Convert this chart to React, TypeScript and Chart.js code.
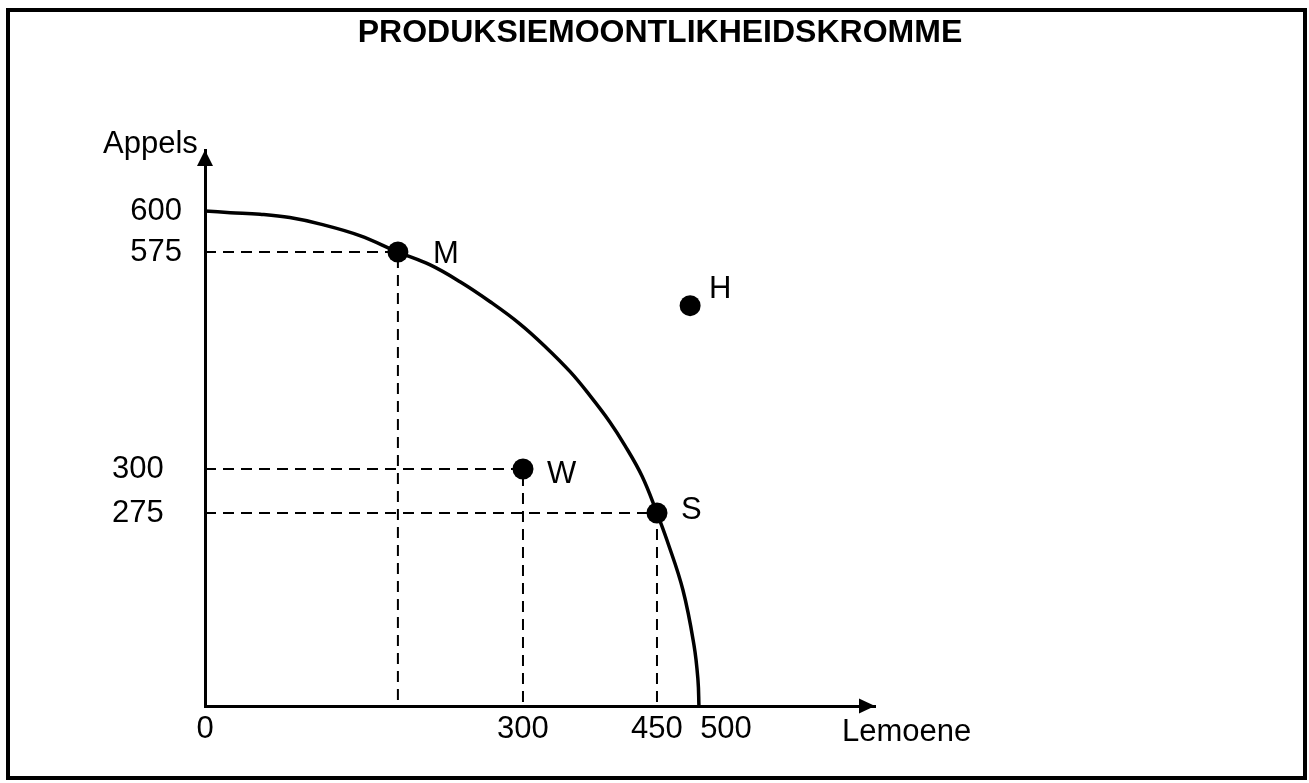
import React, { useEffect, useRef } from 'react';
import { Chart, LinearScale, registerables } from 'chart.js';

const FONT = "'Liberation Sans', Arial, Helvetica, sans-serif";

const TITLE = 'PRODUKSIEMOONTLIKHEIDSKROMME';
const X_AXIS_LABEL = 'Lemoene';
const Y_AXIS_LABEL = 'Appels';

const X_TICKS = [0, 300, 450, 500];
const Y_TICKS_INNER = [575, 600];
const Y_TICKS_OUTER = [275, 300];

// The diagram is schematic (not to scale): value -> share of axis length
const X_KNOT_VALUES = [0, 300, 450, 500, 610];
const X_KNOT_SHARES = [0, 0.4746, 0.6746, 0.7776, 1];
const Y_KNOT_VALUES = [0, 275, 300, 575, 600, 640];
const Y_KNOT_SHARES = [0, 0.3471, 0.4263, 0.8165, 0.8903, 1];

// Production possibility curve
const CURVE_LEMOENE = [0, 24, 52, 80, 109, 146, 182, 212, 241, 269, 297, 325, 353, 375, 397, 414, 433.2, 450, 457.2, 468.8, 476.8, 479.7, 480.4];
const CURVE_APPELS = [600, 599, 598, 596, 592, 585, 575, 559, 537, 512, 484, 455, 423, 393, 360, 330, 296, 275, 236.5, 165.3, 86.9, 37, 0];

// Named points
const POINT_NAMES = ['M', 'H', 'W', 'S'];
const POINT_LEMOENE = [182, 474, 300, 450];
const POINT_APPELS = [575, 507, 300, 275];

// Points that get dashed guide lines to both axes
const GUIDE_NAMES = ['M', 'W', 'S'];

// label placement relative to dot centre: [dx to left edge, dy to baseline]
const LABEL_OFFSETS: Record<string, [number, number]> = {
  M: [35, 11],
  H: [19, -8],
  W: [24, 14],
  S: [24, 6],
};

function interp(v: number, xs: number[], ys: number[]) {
  const n = xs.length;
  let i = 0;
  if (v <= xs[0]) i = 0;
  else if (v >= xs[n - 1]) i = n - 2;
  else {
    while (v > xs[i + 1]) i++;
  }
  const t = (v - xs[i]) / (xs[i + 1] - xs[i]);
  return ys[i] + t * (ys[i + 1] - ys[i]);
}

class PiecewiseScale extends (LinearScale as any) {
  static id = 'piecewise';
  static defaults = (LinearScale as any).defaults;
  knots(): [number[], number[]] {
    return (this as any).axis === 'x'
      ? [X_KNOT_VALUES, X_KNOT_SHARES]
      : [Y_KNOT_VALUES, Y_KNOT_SHARES];
  }
  getPixelForValue(value: any) {
    if (value === null || value === undefined || isNaN(value)) return NaN;
    const [vs, ss] = this.knots();
    return (this as any).getPixelForDecimal(interp(+value, vs, ss));
  }
  getValueForPixel(pixel: number) {
    const [vs, ss] = this.knots();
    return interp((this as any).getDecimalForPixel(pixel), ss, vs);
  }
}

Chart.register(...registerables, PiecewiseScale as any);

const decorPlugin = {
  id: 'decor',
  afterDraw(chart: any) {
    const { ctx, chartArea: a } = chart;
    ctx.save();
    ctx.strokeStyle = '#000';
    ctx.fillStyle = '#000';
    // frame
    ctx.lineWidth = 4;
    ctx.strokeRect(8, 10, chart.width - 12, chart.height - 15);
    // title
    ctx.font = `bold 32px ${FONT}`;
    ctx.textAlign = 'center';
    ctx.textBaseline = 'alphabetic';
    ctx.fillText(TITLE, 660, 42);
    // arrowheads
    ctx.beginPath();
    ctx.moveTo(a.left, a.top);
    ctx.lineTo(a.left - 8, a.top + 16);
    ctx.lineTo(a.left + 8, a.top + 16);
    ctx.closePath();
    ctx.fill();
    ctx.beginPath();
    ctx.moveTo(a.right, a.bottom);
    ctx.lineTo(a.right - 16, a.bottom - 7.5);
    ctx.lineTo(a.right - 16, a.bottom + 7.5);
    ctx.closePath();
    ctx.fill();
    // axis titles
    ctx.font = `31px ${FONT}`;
    ctx.textAlign = 'left';
    ctx.fillText(Y_AXIS_LABEL, a.left - 102, a.top + 3);
    ctx.fillText(X_AXIS_LABEL, a.right - 33, a.bottom + 35);
    // point labels
    const meta = chart.getDatasetMeta(0);
    meta.data.forEach((el: any, i: number) => {
      const name = POINT_NAMES[i];
      const [dx, dy] = LABEL_OFFSETS[name];
      ctx.fillText(name, el.x + dx, el.y + dy);
    });
    ctx.restore();
  },
};

export default function App() {
  const ref = useRef<HTMLCanvasElement>(null);

  useEffect(() => {
    if (!ref.current) return;
    const tickFont = { family: FONT, size: 31 };

    const guideSets = GUIDE_NAMES.map((name) => {
      const i = POINT_NAMES.indexOf(name);
      const x = POINT_LEMOENE[i];
      const y = POINT_APPELS[i];
      return {
        label: 'guide ' + name,
        data: [
          { x: 0, y },
          { x, y },
          { x, y: 0 },
        ],
        showLine: true,
        borderColor: '#000',
        borderWidth: 2,
        borderDash: [11, 7],
        pointRadius: 0,
        tension: 0,
        fill: false,
        xAxisID: 'x',
        yAxisID: 'y',
      };
    });

    const chart = new Chart(ref.current, {
      type: 'scatter',
      data: {
        datasets: [
          {
            label: 'punte',
            data: POINT_NAMES.map((_, i) => ({ x: POINT_LEMOENE[i], y: POINT_APPELS[i] })),
            pointRadius: 10.5,
            pointBackgroundColor: '#000',
            pointBorderWidth: 0,
            showLine: false,
            xAxisID: 'x',
            yAxisID: 'y',
          },
          {
            label: 'kromme',
            data: CURVE_LEMOENE.map((x, i) => ({ x, y: CURVE_APPELS[i] })),
            showLine: true,
            borderColor: '#000',
            borderWidth: 3.5,
            pointRadius: 0,
            tension: 0.4,
            fill: false,
            xAxisID: 'x',
            yAxisID: 'y',
          },
          ...guideSets,
        ] as any,
      },
      options: {
        animation: false,
        responsive: false,
        events: [],
        layout: { padding: { top: 150, right: 434, bottom: 0, left: 0 } },
        plugins: {
          legend: { display: false },
          tooltip: { enabled: false },
          title: { display: false },
        },
        scales: {
          x: {
            type: 'piecewise',
            position: 'bottom',
            min: 0,
            max: 610,
            grid: { display: false, drawTicks: false },
            border: { display: true, color: '#000', width: 3 },
            ticks: {
              font: tickFont,
              color: '#000',
              padding: 5,
              autoSkip: false,
              maxRotation: 0,
              minRotation: 0,
              callback: (v: any) => String(v),
            },
            afterBuildTicks: (s: any) => {
              s.ticks = X_TICKS.map((value) => ({ value }));
            },
            afterFit: (s: any) => {
              s.height = 77;
            },
          },
          y: {
            type: 'piecewise',
            position: 'left',
            weight: 0,
            min: 0,
            max: 640,
            grid: { display: false, drawTicks: false },
            border: { display: true, color: '#000', width: 3 },
            ticks: {
              font: tickFont,
              color: '#000',
              padding: 23,
              autoSkip: false,
              callback: (v: any) => String(v),
            },
            afterBuildTicks: (s: any) => {
              s.ticks = Y_TICKS_INNER.map((value) => ({ value }));
            },
            afterFit: (s: any) => {
              s.width = 80;
            },
          },
          y2: {
            type: 'piecewise',
            position: 'left',
            weight: 1,
            min: 0,
            max: 640,
            grid: { display: false, drawTicks: false },
            border: { display: false },
            ticks: {
              font: tickFont,
              color: '#000',
              mirror: true,
              padding: -13,
              autoSkip: false,
              callback: (v: any) => String(v),
            },
            afterBuildTicks: (s: any) => {
              s.ticks = Y_TICKS_OUTER.map((value) => ({ value }));
            },
            afterFit: (s: any) => {
              s.width = 125;
            },
          },
        } as any,
      },
      plugins: [decorPlugin],
    } as any);

    return () => chart.destroy();
  }, []);

  return (
    <div
      style={{
        position: 'absolute',
        left: 0,
        top: 0,
        width: 1309,
        height: 783,
        background: '#fff',
      }}
    >
      <canvas ref={ref} width={1309} height={783} style={{ display: 'block', width: 1309, height: 783 }} />
    </div>
  );
}
